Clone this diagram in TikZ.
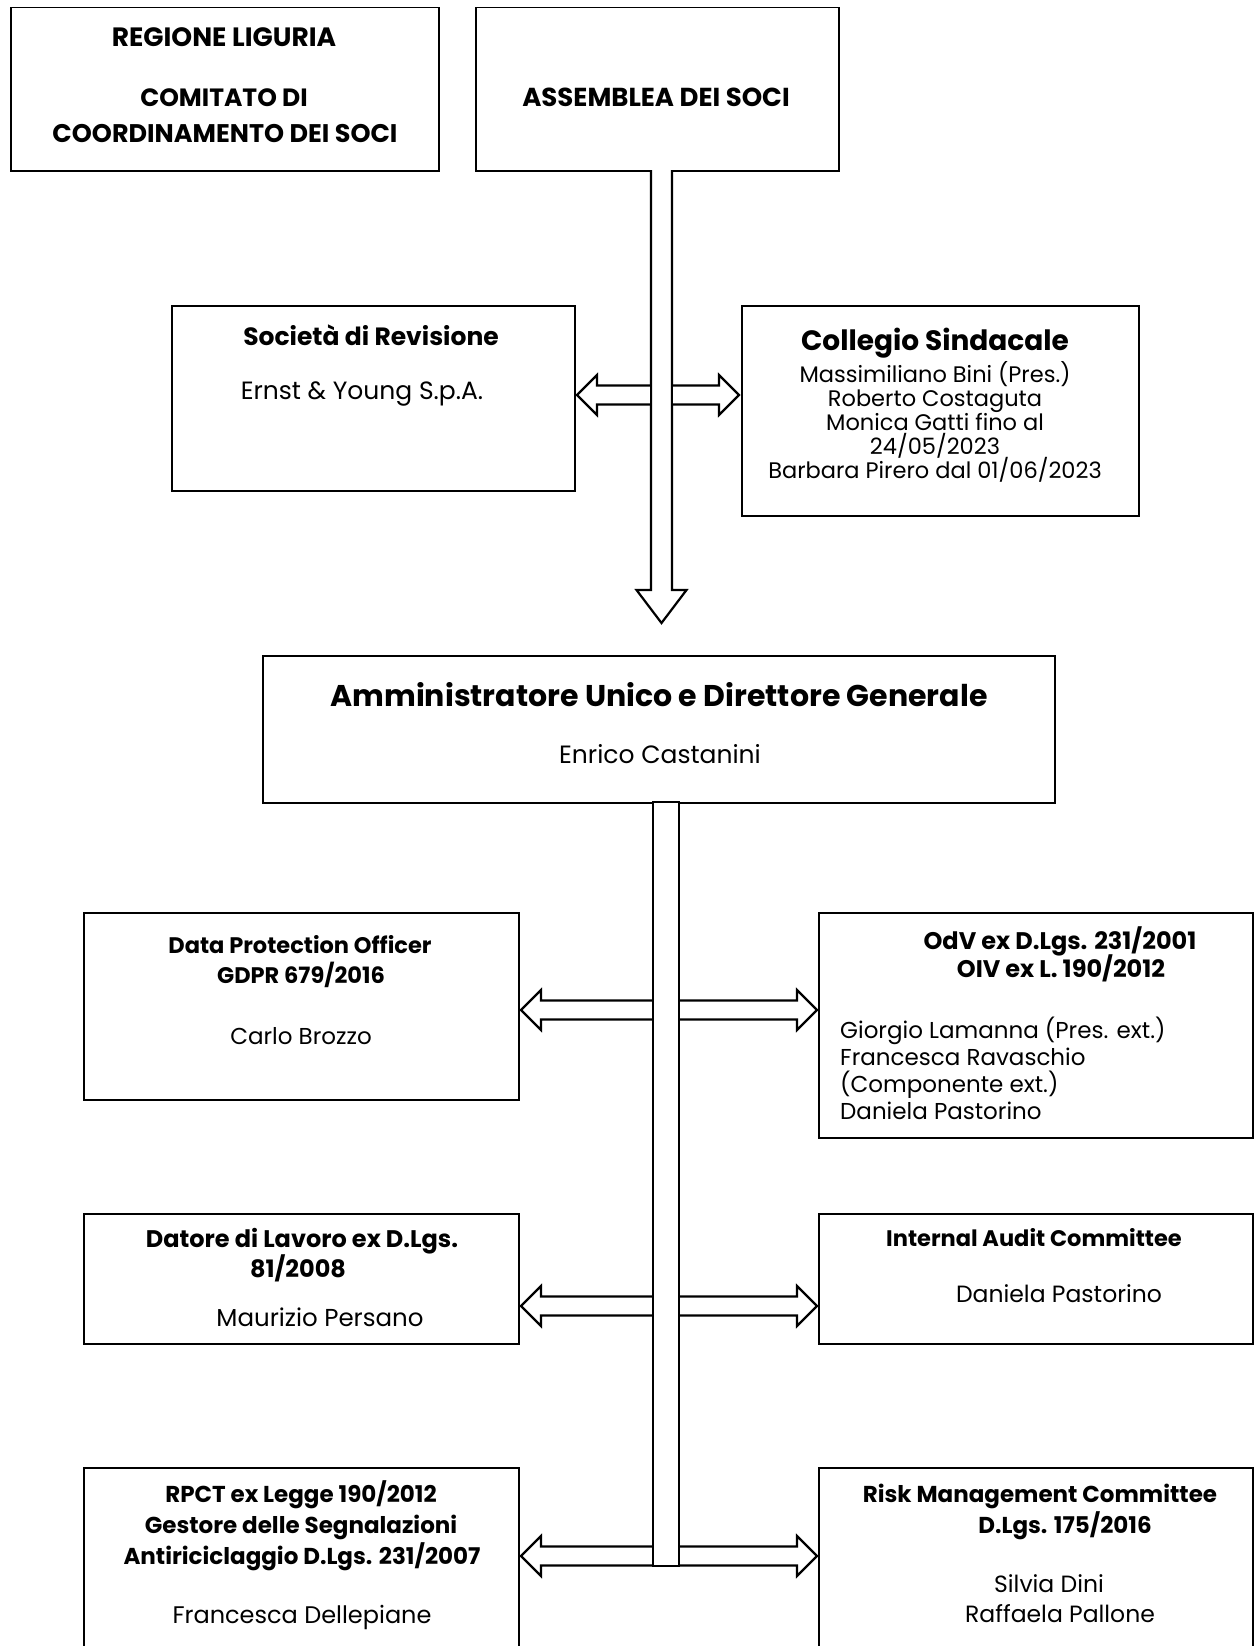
\documentclass[tikz,border=0pt]{standalone}
\usepackage{fontspec}
\setmainfont{Poppins}
\newcommand{\fs}[1]{\fontsize{#1}{#1}\selectfont}
\begin{document}
\begin{tikzpicture}[x=1pt,y=-1pt,
  box/.style={draw, line width=1.5pt, inner sep=0pt, rectangle, anchor=north west},
  tb/.style={font=\bfseries\fs{#1}, inner sep=0pt, anchor=base},
  tn/.style={font=\fs{#1}, inner sep=0pt, anchor=base},
  hol/.style={draw, line width=2.2pt, fill=white, line join=miter},
  shl/.style={draw, line width=2.2pt}]
\useasboundingbox (0,0) rectangle (1255,1646);
\clip (0,0) rectangle (1255,1646);
% ---- boxes
\node[box, minimum width=428, minimum height=163] (reg) at (10,7) {};
\node[box, minimum width=363, minimum height=163] (ass) at (475,7) {};
\node[box, minimum width=403, minimum height=185] (soc) at (171,305) {};
\node[box, minimum width=397, minimum height=210] (col) at (741,305) {};
\node[box, minimum width=792, minimum height=147] (amm) at (262,655) {};
\node[box, minimum width=435, minimum height=187] (dpo) at (83,912) {};
\node[box, minimum width=434, minimum height=225] (odv) at (818,912) {};
\node[box, minimum width=435, minimum height=130] (dat) at (83,1213) {};
\node[box, minimum width=434, minimum height=130] (iac) at (818,1213) {};
\node[box, minimum width=435, minimum height=240] (rpc) at (83,1467) {};
\node[box, minimum width=434, minimum height=240] (rmc) at (818,1467) {};
% ---- texts
\node[tb=26.5] (t1) at (224,46.5) {REGIONE LIGURIA};
\node[tb=25] (t2) at (224,106) {COMITATO DI};
\node[tb=25.5] (t2b) at (225,142) {COORDINAMENTO DEI SOCI};
\node[tb=26] (t3) at (656,106) {ASSEMBLEA DEI SOCI};
\node[tb=25] (t4) at (371,345) {Società di Revisione};
\node[tn=25] (t5) at (362,399) {Ernst \& Young S.p.A.};
\node[tb=28] (t6) at (935,350) {Collegio Sindacale};
\node[tn=22.5] (t7) at (935,382) {Massimiliano Bini (Pres.)};
\node[tn=22.5] (t8) at (935,406) {Roberto Costaguta};
\node[tn=22.5] (t9) at (935,430) {Monica Gatti fino al};
\node[tn=22.5] (t10) at (935,454) {24/05/2023};
\node[tn=22.5] (t11) at (935,478) {Barbara Pirero dal 01/06/2023};
\node[tb=30] (t12) at (659,706) {Amministratore Unico e Direttore Generale};
\node[tn=25] (t13) at (660,763) {Enrico Castanini};
\node[tb=22.5] (t14) at (300,953) {Data Protection Officer};
\node[tb=22.5] (t15) at (301,983) {GDPR 679/2016};
\node[tn=23] (t16) at (301,1044) {Carlo Brozzo};
\node[tb=24] (t17) at (1060,949) {OdV ex D.Lgs. 231/2001};
\node[tb=24] (t18) at (1061,977) {OIV ex L. 190/2012};
\node[tn=23, anchor=base west] (t19) at (840,1038) {Giorgio Lamanna (Pres. ext.)};
\node[tn=23, anchor=base west] (t20) at (840,1065) {Francesca Ravaschio};
\node[tn=23, anchor=base west] (t21) at (840,1092) {(Componente ext.)};
\node[tn=23, anchor=base west] (t22) at (840,1119) {Daniela Pastorino};
\node[tb=24] (t23) at (302,1247) {Datore di Lavoro ex D.Lgs.};
\node[tb=24] (t24) at (298,1277) {81/2008};
\node[tn=24.5] (t25) at (320,1326) {Maurizio Persano};
\node[tb=22.5] (t26) at (1034,1246) {Internal Audit Committee};
\node[tn=23.5] (t27) at (1059,1302) {Daniela Pastorino};
\node[tb=23] (t28) at (301,1502) {RPCT ex Legge 190/2012};
\node[tb=23] (t29) at (301,1533) {Gestore delle Segnalazioni};
\node[tb=23] (t30) at (302,1564) {Antiriciclaggio D.Lgs. 231/2007};
\node[tn=24] (t31) at (302,1623) {Francesca Dellepiane};
\node[tb=23] (t32) at (1040,1502) {Risk Management Committee};
\node[tb=23] (t33) at (1065,1533) {D.Lgs. 175/2016};
\node[tn=23.5] (t34) at (1049,1592) {Silvia Dini};
\node[tn=23.5] (t35) at (1060,1622) {Raffaela Pallone};
% ---- shaft 1 with down arrow
\draw[hol] (651,170) -- (651,590) -- (636.5,590) -- (661.5,623) -- (686.5,590) -- (672,590) -- (672,170);
\draw[hol] (651,385.5) -- (597,385.5) -- (597,375) -- (577,395) -- (597,415) -- (597,404.5) -- (651,404.5);
\draw[hol] (672,385.5) -- (719,385.5) -- (719,375) -- (739,395) -- (719,415) -- (719,404.5) -- (672,404.5);
\draw[shl] (651,170) -- (651,590) (672,170) -- (672,590);
% ---- shaft 2
\draw[hol] (653,802) rectangle (679,1566);
\foreach \yy in {1010,1306,1556}{
  \draw[hol] (653,\yy-9.5) -- (541,\yy-9.5) -- (541,\yy-20) -- (521,\yy) -- (541,\yy+20) -- (541,\yy+9.5) -- (653,\yy+9.5);
  \draw[hol] (679,\yy-9.5) -- (797,\yy-9.5) -- (797,\yy-20) -- (817,\yy) -- (797,\yy+20) -- (797,\yy+9.5) -- (679,\yy+9.5);
}
\draw[shl] (653,802) rectangle (679,1566);
\end{tikzpicture}
\end{document}
